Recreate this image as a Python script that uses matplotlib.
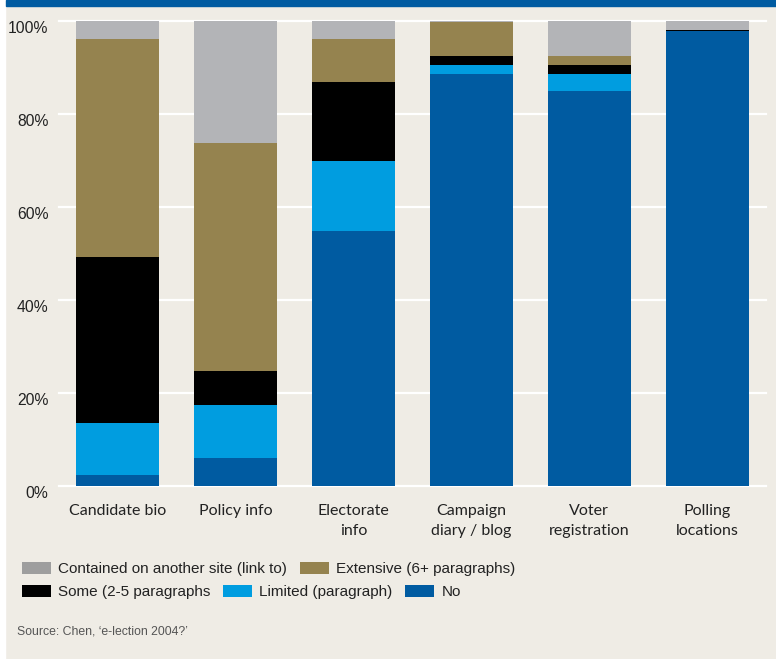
import matplotlib
matplotlib.use("Agg")
import matplotlib.pyplot as plt
import matplotlib.transforms as mtransforms
from matplotlib.patches import Patch, Rectangle
import numpy as np

categories = ["Candidate bio", "Policy info", "Electorate\ninfo", "Campaign\ndiary / blog",
              "Voter\nregistration", "Polling\nlocations"]
series_names = ["No", "Limited (paragraph)", "Some (2-5 paragraphs", "Extensive (6+ paragraphs)",
                "Contained on another site (link to)"]
no_vals        = [2.2, 5.9, 54.8, 88.6, 84.9, 97.8]
limited_vals   = [11.3, 11.4, 15.1, 1.9, 3.7, 0.0]
some_vals      = [35.7, 7.4, 17.0, 2.0, 1.9, 0.3]
extensive_vals = [46.9, 49.0, 9.2, 7.2, 2.0, 0.0]
link_vals      = [3.9, 26.3, 3.9, 0.3, 7.5, 1.9]
y_ticks = [0, 20, 40, 60, 80, 100]
y_tick_labels = ["0%", "20%", "40%", "60%", "80%", "100%"]

colors = ["#005BA1", "#009DE0", "#000000", "#95834F", "#B3B4B7"]
legend_colors = {"Contained on another site (link to)": "#9E9E9E"}
bg = "#EFECE5"

fig = plt.figure(figsize=(7.76, 6.59), dpi=100, facecolor=bg)
# white margin at left and top blue band
fig.patches.append(Rectangle((0, 0), 5 / 776, 1, transform=fig.transFigure, color="white", zorder=0))
fig.patches.append(Rectangle((6 / 776, 1 - 6 / 659), 1, 6 / 659, transform=fig.transFigure,
                             color="#005BA1", zorder=1))

ax = fig.add_axes([59 / 776, 173.5 / 659, 707 / 776, 464.5 / 659])
ax.set_facecolor(bg)
x = np.arange(len(categories))
stack = [no_vals, limited_vals, some_vals, extensive_vals, link_vals]
bottom = np.zeros(len(categories))
for vals, col, name in zip(stack, colors, series_names):
    ax.bar(x, vals, bottom=bottom, width=0.705, color=col, label=name, zorder=3, linewidth=0)
    bottom += np.array(vals)

ax.set_xlim(-0.5, 5.5)
ax.set_ylim(0, 100)
ax.set_yticks(y_ticks)
ax.set_yticklabels(y_tick_labels, fontsize=11.3, color="#222222", family="Liberation Sans")
for t in y_ticks:
    ax.axhline(t, color="white", lw=1.6, zorder=2, clip_on=False)
ax.set_xticks(x)
ax.set_xticklabels(categories, fontsize=11.5, color="#222222", family="Lato", linespacing=1.62)
ax.tick_params(axis="both", length=0)
ax.tick_params(axis="x", pad=13)
ax.tick_params(axis="y", pad=7.5)
offset = mtransforms.ScaledTranslation(0, -6 / 100, fig.dpi_scale_trans)
for lab in ax.get_yticklabels():
    lab.set_transform(lab.get_transform() + offset)
for s in ax.spines.values():
    s.set_visible(False)

# legends (two rows)
row1 = ["Contained on another site (link to)", "Extensive (6+ paragraphs)"]
row2 = ["Some (2-5 paragraphs", "Limited (paragraph)", "No"]
cmap = dict(zip(series_names, colors))
cmap.update(legend_colors)
for row, yc in [(row1, 569), (row2, 592)]:
    handles = [Patch(facecolor=cmap[n], edgecolor="none", label=n) for n in row]
    leg = fig.legend(handles=handles, loc="center left", bbox_to_anchor=(22 / 776, 1 - yc / 659),
                     ncol=len(row), frameon=False, borderpad=0, borderaxespad=0,
                     handlelength=1.9, handleheight=0.9, handletextpad=0.45, columnspacing=0.85,
                     prop={"family": "Liberation Sans", "size": 11})
    for t in leg.get_texts():
        t.set_color("#222222")

fig.text(17 / 776, 1 - 632 / 659, "Source: Chen, \u2018e-lection 2004?\u2019", fontsize=8.8,
         family="Liberation Sans", color="#555555", va="center", ha="left")

fig.savefig("out.png", dpi=100, facecolor=bg)
